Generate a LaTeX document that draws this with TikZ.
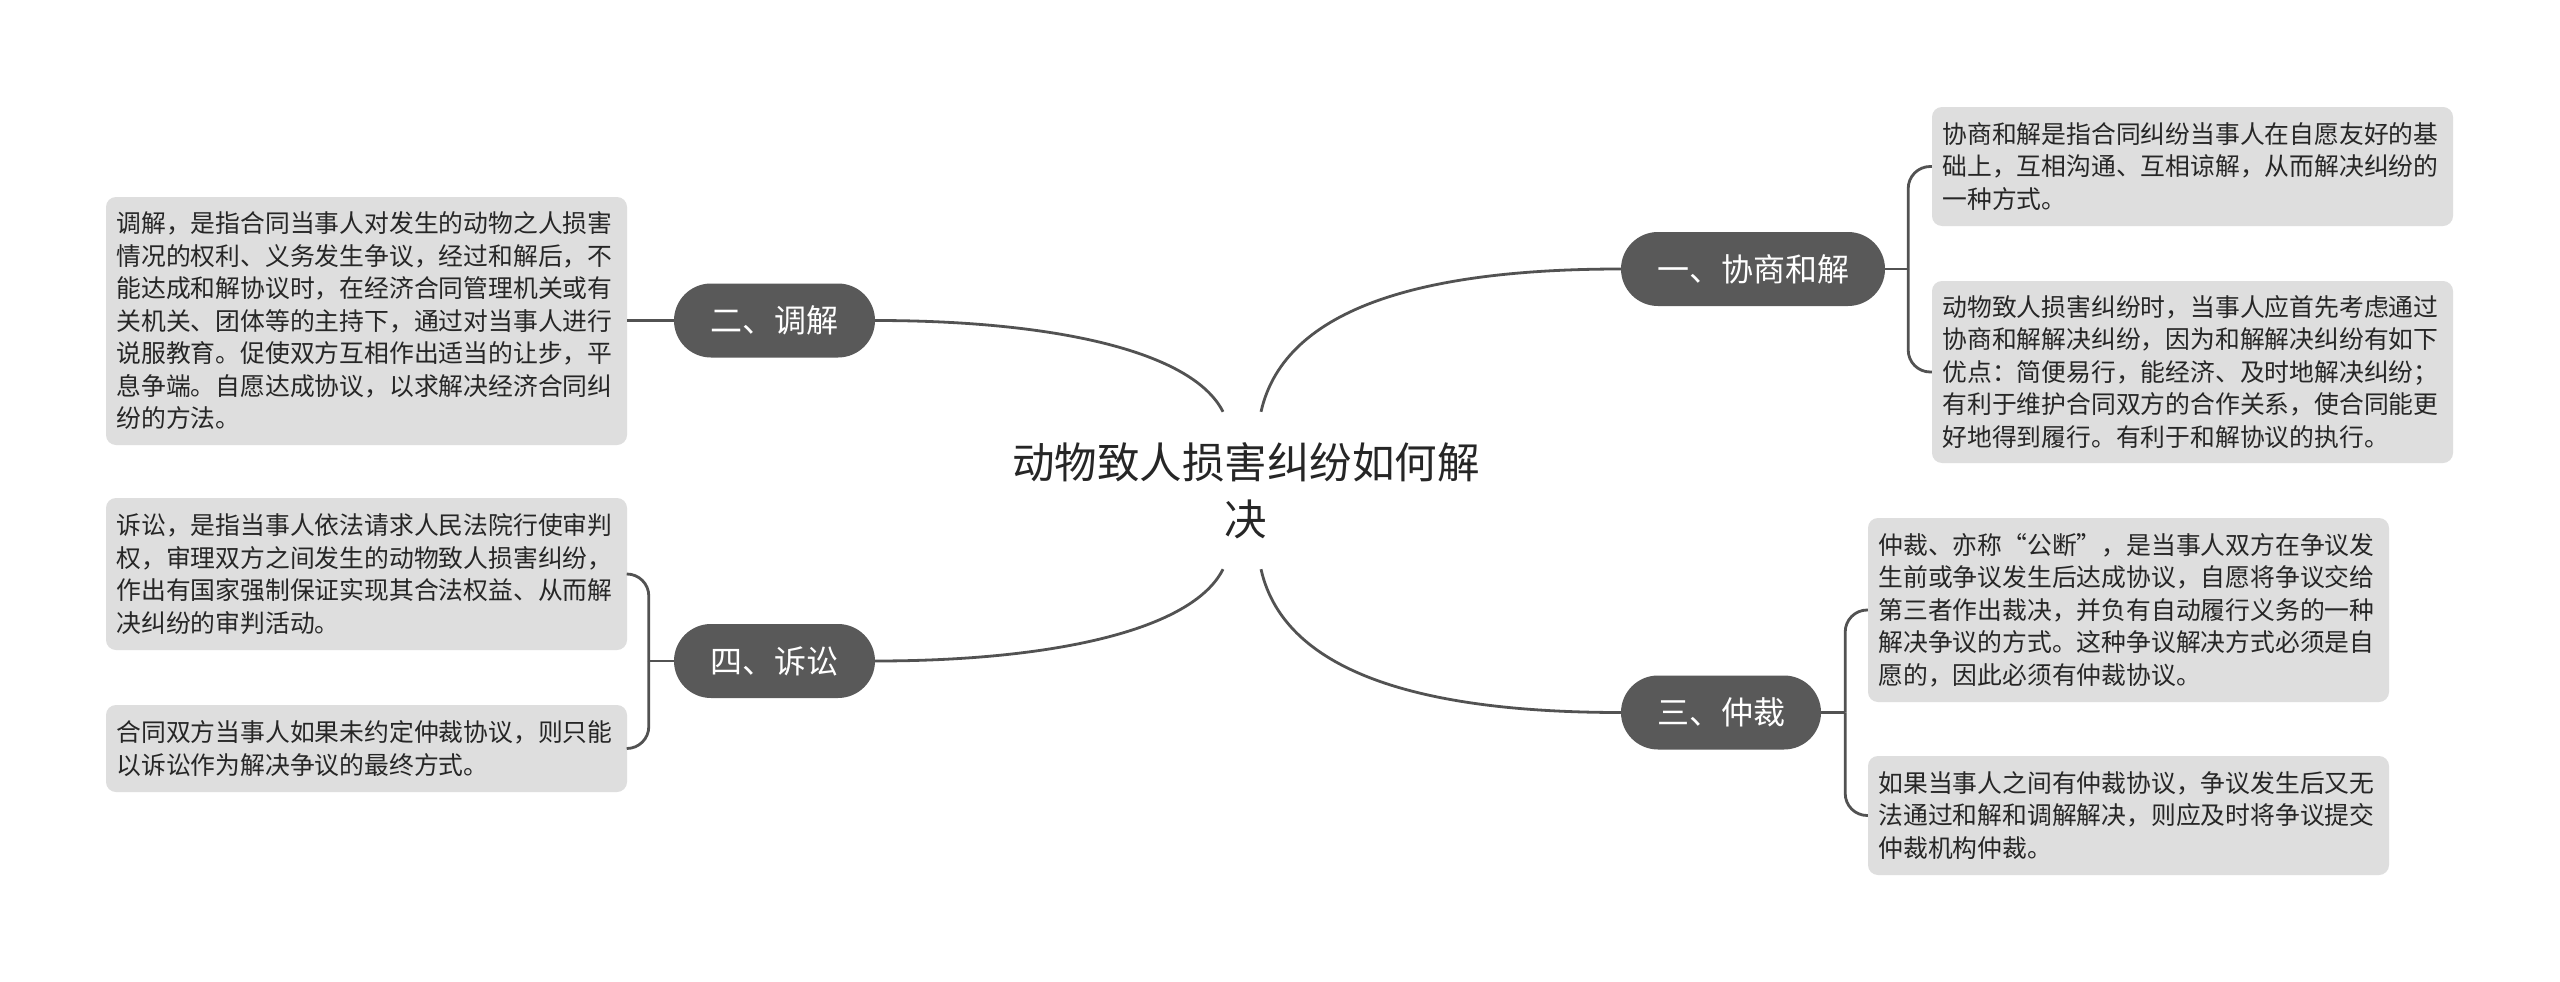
\documentclass[tikz,border=0pt]{standalone}
\usepackage{fontspec}
\newfontfamily\cjk{Noto Sans CJK SC}
\definecolor{linec}{HTML}{525252}
\definecolor{branchc}{HTML}{595959}
\definecolor{leafc}{HTML}{DEDEDE}
\definecolor{textc}{HTML}{262626}
\begin{document}
\begin{tikzpicture}[x=1pt,y=-1pt,
  leaf/.style={fill=leafc, rounded corners=10pt, text width=500pt, inner xsep=10.5pt, inner ysep=0pt,
    align=left, font=\cjk\fontsize{24.8pt}{32.5pt}\selectfont, text=textc},
  branch/.style={fill=branchc, rounded corners=37pt, minimum height=74pt, inner xsep=0pt, inner ysep=0pt,
    font=\cjk\fontsize{32pt}{38pt}\selectfont, text=white},
  centre/.style={align=center, inner sep=0pt, minimum height=157pt, text=textc,
    font=\cjk\fontsize{42.5pt}{57pt}\selectfont},
  conn/.style={draw=linec, line width=2.8pt},
  bracket/.style={draw=linec, line width=2.8pt, rounded corners=22pt}
]
\fill[white] (0,0) rectangle (2560,982);
\useasboundingbox (0,0) rectangle (2560,982);

% centre
\node[centre] (c) at (1246,490.5) {动物致人损害纠纷如何解\\决};

% branches
\node[branch, minimum width=264pt] (b1) at (1753,269) {一、协商和解};
\node[branch, minimum width=201pt] (b2) at (774.5,320.5) {二、调解};
\node[branch, minimum width=200pt] (b3) at (1721,712.5) {三、仲裁};
\node[branch, minimum width=201pt] (b4) at (774.5,661) {四、诉讼};

% leaves
\node[leaf, minimum height=119pt] (r1) at (2192.5,166.5) {协商和解是指合同纠纷当事人在自愿友好的基\\础上，互相沟通、互相谅解，从而解决纠纷的\\一种方式。};
\node[leaf, minimum height=182pt] (r2) at (2192.5,372) {动物致人损害纠纷时，当事人应首先考虑通过\\协商和解解决纠纷，因为和解解决纠纷有如下\\优点：简便易行，能经济、及时地解决纠纷；\\有利于维护合同双方的合作关系，使合同能更\\好地得到履行。有利于和解协议的执行。};
\node[leaf, minimum height=184pt] (r3) at (2128.5,610) {仲裁、亦称“公断”，是当事人双方在争议发\\生前或争议发生后达成协议，自愿将争议交给\\第三者作出裁决，并负有自动履行义务的一种\\解决争议的方式。这种争议解决方式必须是自\\愿的，因此必须有仲裁协议。};
\node[leaf, minimum height=119pt] (r4) at (2128.5,815.5) {如果当事人之间有仲裁协议，争议发生后又无\\法通过和解和调解解决，则应及时将争议提交\\仲裁机构仲裁。};
\node[leaf, minimum height=248pt] (l1) at (366.5,321) {调解，是指合同当事人对发生的动物之人损害\\情况的权利、义务发生争议，经过和解后，不\\能达成和解协议时，在经济合同管理机关或有\\关机关、团体等的主持下，通过对当事人进行\\说服教育。促使双方互相作出适当的让步，平\\息争端。自愿达成协议，以求解决经济合同纠\\纷的方法。};
\node[leaf, minimum height=152pt] (l2) at (366.5,574) {诉讼，是指当事人依法请求人民法院行使审判\\权，审理双方之间发生的动物致人损害纠纷，\\作出有国家强制保证实现其合法权益、从而解\\决纠纷的审判活动。};
\node[leaf, minimum height=87pt] (l3) at (366.5,748.5) {合同双方当事人如果未约定仲裁协议，则只能\\以诉讼作为解决争议的最终方式。};

% centre to branches
\draw[conn] ([xshift=15pt]c.north) .. controls (1285,305) and (1430,269) .. (b1.west);
\draw[conn] ([xshift=15pt]c.south) .. controls (1285,676) and (1430,712.5) .. (b3.west);
\draw[conn] ([xshift=-23pt]c.north) .. controls (1192,350) and (1050,320.5) .. (b2.east);
\draw[conn] ([xshift=-23pt]c.south) .. controls (1192,631) and (1050,661) .. (b4.east);

% branch to leaves
\coordinate (j1) at ([xshift=23pt]b1.east);
\draw[conn] (b1.east) -- (j1);
\draw[bracket] (j1) |- (r1.west);
\draw[bracket] (j1) |- (r2.west);

\coordinate (j3) at ([xshift=24pt]b3.east);
\draw[conn] (b3.east) -- (j3);
\draw[bracket] (j3) |- (r3.west);
\draw[bracket] (j3) |- (r4.west);

\draw[conn] (b2.west) -- (l1.east |- b2.west);

\coordinate (j4) at ([xshift=-25pt]b4.west);
\draw[conn] (b4.west) -- (j4);
\draw[bracket] (j4) |- (l2.east);
\draw[bracket] (j4) |- (l3.east);
\end{tikzpicture}
\end{document}
